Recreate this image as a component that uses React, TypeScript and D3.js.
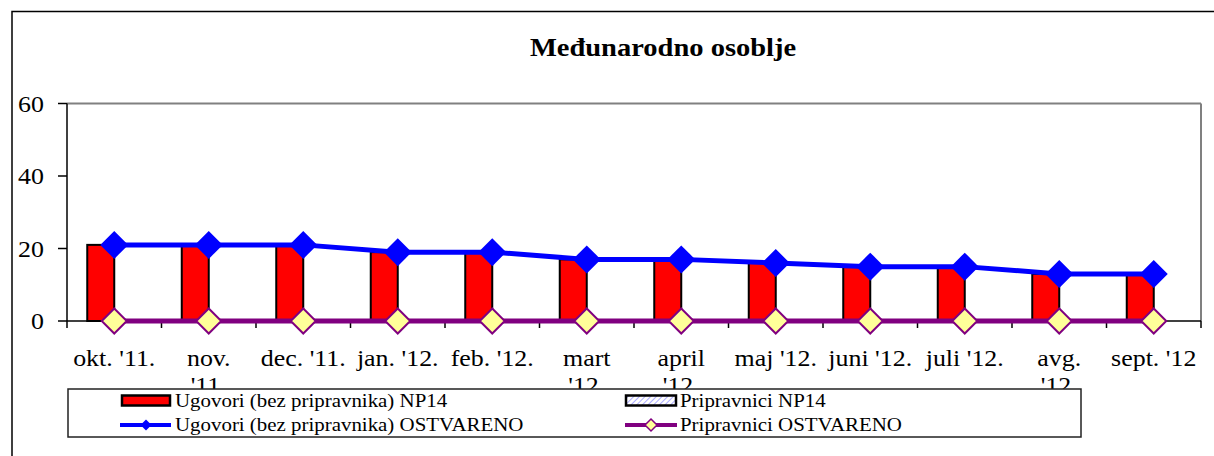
import React from 'react';
import * as d3 from 'd3';

// chart data
const months = ["okt. '11.", "nov. '11.", "dec. '11.", "jan. '12.", "feb. '12.", "mart '12.",
  "april '12.", "maj '12.", "juni '12.", "juli '12.", "avg. '12.", "sept. '12"];
const monthLines = [["okt. '11."], ["nov.", "'11."], ["dec. '11."], ["jan. '12."], ["feb. '12."],
  ["mart", "'12."], ["april", "'12."], ["maj '12."], ["juni '12."], ["juli '12."], ["avg.", "'12."], ["sept. '12"]];
const ugovoriPlan = [21, 21, 21, 19, 19, 17, 17, 16, 15, 15, 13, 13];
const pripravniciPlan = [0, 0, 0, 0, 0, 0, 0, 0, 0, 0, 0, 0];
const ugovoriOstvareno = [21, 21, 21, 19, 19, 17, 17, 16, 15, 15, 13, 13];
const pripravniciOstvareno = [0, 0, 0, 0, 0, 0, 0, 0, 0, 0, 0, 0];
const yTicks = [0, 20, 40, 60];
const legendLabels = [
  'Ugovori (bez pripravnika) NP14',
  'Pripravnici NP14',
  'Ugovori (bez pripravnika) OSTVARENO',
  'Pripravnici OSTVARENO',
];

const FONT = 'Liberation Serif, DejaVu Serif';

const T = ({ x, y, sx = 1.1, size, anchor = 'start', bold = false, children }: any) => (
  <text transform={`translate(${x},${y}) scale(${sx},1)`}
    fontFamily={FONT} fontSize={size} fontWeight={bold ? 700 : 400}
    textAnchor={anchor} fill="#000">{children}</text>
);

const diamond = (cx: number, cy: number, r: number) =>
  `M${cx},${cy - r}L${cx + r},${cy}L${cx},${cy + r}L${cx - r},${cy}Z`;

export default function App() {
  const W = 1214, H = 456;
  const plot = { left: 67, right: 1201, top: 103.5, bottom: 321 };

  const x = d3.scaleBand<string>().domain(months).range([plot.left, plot.right]);
  const y = d3.scaleLinear().domain([0, 60]).range([plot.bottom, plot.top]);
  const bw = x.bandwidth();
  const groupW = bw / 1.75; // 75% gap width
  const sub = d3.scaleBand<string>().domain(['u', 'p']).range([0, groupW]);
  const cx = (m: string) => (x(m) as number) + bw / 2;

  const line = d3.line<number>().x((_, i) => cx(months[i])).y(d => y(d));

  return (
    <svg width={W} height={H} style={{ position: 'absolute', left: 0, top: 0, background: '#fff' }}>
      <defs>
        <pattern id="hatch" width="4" height="4" patternUnits="userSpaceOnUse" patternTransform="rotate(45)">
          <rect width="4" height="4" fill="#fff" />
          <line x1="0" y1="0" x2="0" y2="4" stroke="#8f8fff" strokeWidth="1.5" />
        </pattern>
      </defs>
      <rect x={0} y={0} width={W} height={H} fill="#fff" />
      {/* outer chart border */}
      <rect x={12} y={11.5} width={1230} height={480} fill="none" stroke="#000" strokeWidth={1.5} />

      <T x={663} y={56} size={25} sx={1.14} anchor="middle" bold>Međunarodno osoblje</T>

      {/* plot frame */}
      <line x1={plot.left} x2={plot.right} y1={plot.top} y2={plot.top} stroke="#808080" strokeWidth={2} />
      <line x1={plot.right} x2={plot.right} y1={plot.top} y2={plot.bottom} stroke="#808080" strokeWidth={2} />

      {/* y axis */}
      <line x1={plot.left} x2={plot.left} y1={plot.top} y2={plot.bottom} stroke="#000" strokeWidth={1.5} />
      {yTicks.map(t => (
        <g key={t}>
          <line x1={58} x2={plot.left} y1={y(t)} y2={y(t)} stroke="#000" strokeWidth={1.5} />
          <T x={44} y={y(t) + 8} size={24} sx={1.08} anchor="end">{t}</T>
        </g>
      ))}

      {/* bars */}
      {months.map((m, i) => {
        const g0 = cx(m) - groupW / 2;
        return (
          <g key={m}>
            <rect x={g0 + (sub('u') as number)} y={y(ugovoriPlan[i])} width={sub.bandwidth()}
              height={y(0) - y(ugovoriPlan[i])} fill="#ff0000" stroke="#000" strokeWidth={2} />
            {pripravniciPlan[i] > 0 && (
              <rect x={g0 + (sub('p') as number)} y={y(pripravniciPlan[i])} width={sub.bandwidth()}
                height={y(0) - y(pripravniciPlan[i])} fill="url(#hatch)" stroke="#000" strokeWidth={2} />
            )}
          </g>
        );
      })}

      {/* x axis */}
      <line x1={plot.left} x2={plot.right} y1={plot.bottom} y2={plot.bottom} stroke="#000" strokeWidth={1.5} />
      {months.map(m => (
        <line key={m} x1={x(m)} x2={x(m)} y1={plot.bottom} y2={plot.bottom + 7} stroke="#000" strokeWidth={1.5} />
      ))}
      <line x1={plot.right} x2={plot.right} y1={plot.bottom} y2={plot.bottom + 7} stroke="#000" strokeWidth={1.5} />
      {months.map((m, i) => monthLines[i].map((l, j) => (
        <T key={m + j} x={cx(m)} y={366 + j * 27} size={24} sx={1.08} anchor="middle">{l}</T>
      )))}

      {/* lines */}
      <path d={line(ugovoriOstvareno) || ''} fill="none" stroke="#0000ff" strokeWidth={5} />
      {ugovoriOstvareno.map((v, i) => (
        <path key={i} d={diamond(cx(months[i]), y(v), 14)} fill="#0000ff" />
      ))}
      <path d={line(pripravniciOstvareno) || ''} fill="none" stroke="#800080" strokeWidth={5} />
      {pripravniciOstvareno.map((v, i) => (
        <path key={i} d={diamond(cx(months[i]), y(v), 12.5)} fill="#ffff99" stroke="#800080" strokeWidth={2} />
      ))}

      {/* legend */}
      <rect x={68} y={389} width={1013} height={48} fill="#fff" stroke="#222" strokeWidth={1.5} />
      <rect x={122} y={395.5} width={48} height={10} fill="#ff0000" stroke="#000" strokeWidth={2.5} />
      <T x={175} y={407} size={19} sx={1.1}>{legendLabels[0]}</T>
      <rect x={626} y={395.5} width={50} height={10} fill="url(#hatch)" stroke="#000" strokeWidth={2.5} />
      <T x={680} y={407} size={19} sx={1.1}>{legendLabels[1]}</T>
      <line x1={120} x2={171} y1={425} y2={425} stroke="#0000ff" strokeWidth={4} />
      <path d={diamond(146, 425, 5.5)} fill="#0000ff" />
      <T x={175} y={431} size={19} sx={1.1}>{legendLabels[2]}</T>
      <line x1={625} x2={677} y1={425} y2={425} stroke="#800080" strokeWidth={4} />
      <path d={diamond(651, 425, 6)} fill="#ffff99" stroke="#800080" strokeWidth={1.5} />
      <T x={680} y={431} size={19} sx={1.1}>{legendLabels[3]}</T>
    </svg>
  );
}
